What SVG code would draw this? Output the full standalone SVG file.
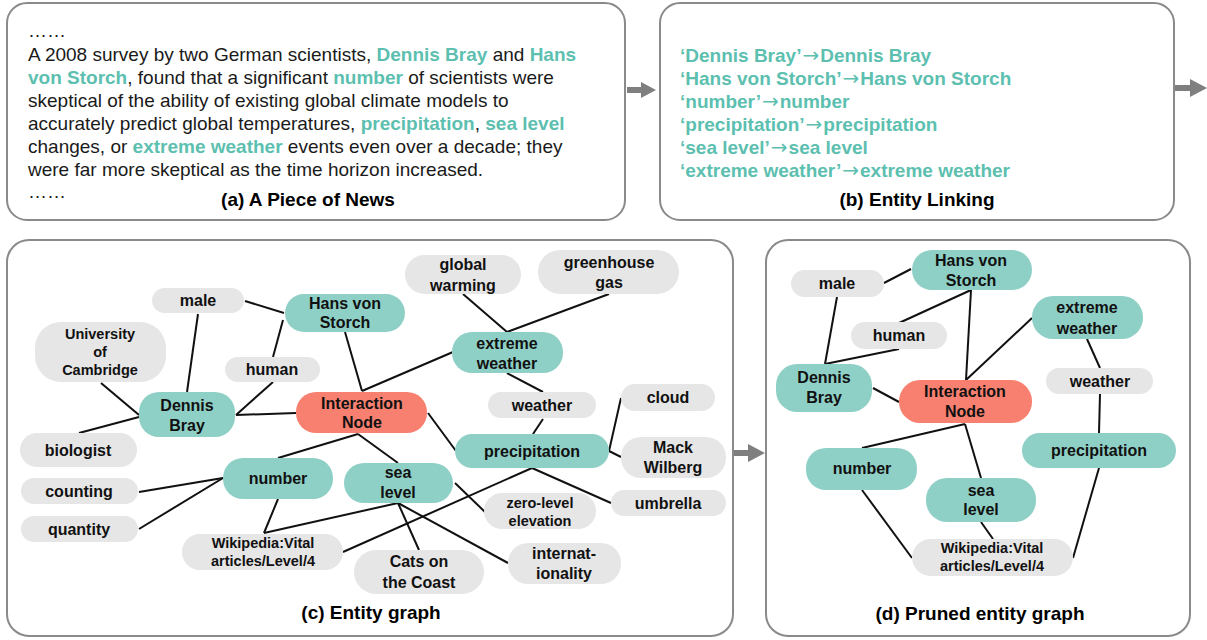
<svg xmlns="http://www.w3.org/2000/svg" width="1207" height="640" viewBox="0 0 1207 640">
<defs>
<style>
.panel{fill:#fff;stroke:#8a8a8a;stroke-width:2}
.body{font-family:"Liberation Sans",Arial,sans-serif;font-size:19px;fill:#1a1a1a}
.hl{font-weight:bold;fill:#5cbfb0}
.title{font-family:"Liberation Sans",Arial,sans-serif;font-size:19px;font-weight:bold;fill:#000;text-anchor:middle}
.link{font-family:"Liberation Sans",Arial,sans-serif;font-size:19px;font-weight:bold;fill:#5cbfb0}
.arr{font-family:"DejaVu Sans",sans-serif;font-weight:normal;font-size:20px}
.teal{fill:#8fd0c6}
.gray{fill:#e6e6e6}
.salmon{fill:#f88070}
.lbl{font-family:"Liberation Sans",Arial,sans-serif;font-size:16px;font-weight:bold;fill:#111;text-anchor:middle}
.sm{font-size:14.5px}
.edge{stroke:#111;stroke-width:2;fill:none}
.flow{fill:#7f7f7f}
</style>
</defs>

<!-- Panels -->
<g id="panel-a">
<rect class="panel" x="7" y="3" width="618" height="217" rx="20"/>
<text class="body" x="28" y="37">……</text>
<text class="body" x="28" y="61">A 2008 survey by two German scientists, <tspan class="hl">Dennis Bray</tspan> and <tspan class="hl">Hans</tspan></text>
<text class="body" x="28" y="84"><tspan class="hl">von Storch</tspan>, found that a significant <tspan class="hl">number</tspan> of scientists were</text>
<text class="body" x="28" y="107">skeptical of the ability of existing global climate models to</text>
<text class="body" x="28" y="130">accurately predict global temperatures, <tspan class="hl">precipitation</tspan>, <tspan class="hl">sea level</tspan></text>
<text class="body" x="28" y="153">changes, or <tspan class="hl">extreme weather</tspan> events even over a decade; they</text>
<text class="body" x="28" y="176">were far more skeptical as the time horizon increased.</text>
<text class="body" x="28" y="198">……</text>
<text class="title" x="308" y="206">(a) A Piece of News</text>
</g>

<g id="panel-b">
<rect class="panel" x="660" y="3" width="514" height="217" rx="20"/>
<text class="link" x="680" y="62">‘Dennis Bray’<tspan class="arr" dx="1">→</tspan><tspan dx="1">Dennis Bray</tspan></text>
<text class="link" x="680" y="85">‘Hans von Storch’<tspan class="arr" dx="1">→</tspan><tspan dx="1">Hans von Storch</tspan></text>
<text class="link" x="680" y="108">‘number’<tspan class="arr" dx="1">→</tspan><tspan dx="1">number</tspan></text>
<text class="link" x="680" y="131">‘precipitation’<tspan class="arr" dx="1">→</tspan><tspan dx="1">precipitation</tspan></text>
<text class="link" x="680" y="154">‘sea level’<tspan class="arr" dx="1">→</tspan><tspan dx="1">sea level</tspan></text>
<text class="link" x="680" y="177">‘extreme weather’<tspan class="arr" dx="1">→</tspan><tspan dx="1">extreme weather</tspan></text>
<text class="title" x="917" y="206">(b) Entity Linking</text>
</g>

<g id="panel-c">
<rect class="panel" x="7" y="240" width="726" height="396" rx="22"/>
<text class="title" x="371" y="619">(c) Entity graph</text>
</g>

<g id="panel-d">
<rect class="panel" x="766" y="240" width="424" height="396" rx="22"/>
<text class="title" x="980" y="620">(d) Pruned entity graph</text>
</g>

<g id="flow-arrows">
<polygon class="flow" points="627,87 641,87 641,82 656,90 641,98 641,93 627,93"/>
<polygon class="flow" points="1175,85 1190,85 1190,79 1207,88 1190,97 1190,91 1175,91"/>
<polygon class="flow" points="734,450 748,450 748,444 765,453 748,462 748,456 734,456"/>
</g>

<!-- Connectors -->
<g id="connectors">
<g id="edges-c">
<line class="edge" x1="245" y1="301" x2="284" y2="313"/>
<line class="edge" x1="198" y1="314" x2="187" y2="392"/>
<line class="edge" x1="283" y1="320" x2="273" y2="357"/>
<line class="edge" x1="273" y1="382" x2="236" y2="415"/>
<line class="edge" x1="101" y1="383" x2="139" y2="415"/>
<line class="edge" x1="139" y1="417" x2="79" y2="433"/>
<line class="edge" x1="236" y1="415" x2="296" y2="413"/>
<line class="edge" x1="345" y1="332" x2="362" y2="391"/>
<line class="edge" x1="362" y1="391" x2="453" y2="352"/>
<line class="edge" x1="358" y1="434" x2="278" y2="458"/>
<line class="edge" x1="358" y1="434" x2="398" y2="463"/>
<line class="edge" x1="223" y1="478" x2="139" y2="492"/>
<line class="edge" x1="223" y1="478" x2="139" y2="529"/>
<line class="edge" x1="278" y1="499" x2="264" y2="533"/>
<line class="edge" x1="264" y1="533" x2="398" y2="503"/>
<line class="edge" x1="343" y1="552" x2="532" y2="468"/>
<line class="edge" x1="398" y1="503" x2="419" y2="550"/>
<line class="edge" x1="398" y1="503" x2="508" y2="563"/>
<line class="edge" x1="455" y1="483" x2="485" y2="512"/>
<line class="edge" x1="532" y1="468" x2="611" y2="503"/>
<line class="edge" x1="428" y1="413" x2="456" y2="451"/>
<line class="edge" x1="507" y1="332" x2="463" y2="294"/>
<line class="edge" x1="507" y1="332" x2="609" y2="294"/>
<line class="edge" x1="507" y1="373" x2="543" y2="392"/>
<line class="edge" x1="543" y1="419" x2="533" y2="434"/>
<line class="edge" x1="609" y1="451" x2="621" y2="398"/>
<line class="edge" x1="609" y1="451" x2="621" y2="457"/>
</g>
<g id="edges-d">
<line class="edge" x1="884" y1="283" x2="911" y2="269"/>
<line class="edge" x1="837" y1="297" x2="825" y2="364"/>
<line class="edge" x1="971" y1="290" x2="899" y2="323"/>
<line class="edge" x1="899" y1="349" x2="825" y2="364"/>
<line class="edge" x1="971" y1="290" x2="966" y2="380"/>
<line class="edge" x1="1032" y1="318" x2="966" y2="380"/>
<line class="edge" x1="873" y1="388" x2="899" y2="402"/>
<line class="edge" x1="965" y1="424" x2="862" y2="448"/>
<line class="edge" x1="965" y1="424" x2="981" y2="478"/>
<line class="edge" x1="1087" y1="339" x2="1100" y2="368"/>
<line class="edge" x1="1100" y1="394" x2="1099" y2="433"/>
<line class="edge" x1="862" y1="490" x2="912" y2="558"/>
<line class="edge" x1="981" y1="522" x2="993" y2="539"/>
<line class="edge" x1="1099" y1="468" x2="1073" y2="558"/>
</g>
</g>

<!-- Nodes of (c) -->
<g id="c-male"><rect class="gray" x="152" y="288" width="92" height="25" rx="12.5"/><text class="lbl" x="198" y="306">male</text></g>
<g id="c-hans"><rect class="teal" x="285" y="294" width="120" height="38" rx="19"/><text class="lbl" x="345" y="309">Hans von</text><text class="lbl" x="345" y="328">Storch</text></g>
<g id="c-cambridge"><rect class="gray" x="35" y="322" width="131" height="60" rx="26"/><text class="lbl sm" x="100" y="339">University</text><text class="lbl sm" x="100" y="357">of</text><text class="lbl sm" x="100" y="375">Cambridge</text></g>
<g id="c-human"><rect class="gray" x="225" y="357" width="95" height="25" rx="12.5"/><text class="lbl" x="272" y="375">human</text></g>
<g id="c-dennis"><rect class="teal" x="139" y="392" width="96" height="45" rx="20"/><text class="lbl" x="187" y="411">Dennis</text><text class="lbl" x="187" y="431">Bray</text></g>
<g id="c-interaction"><rect class="salmon" x="296" y="392" width="131" height="41" rx="20"/><text class="lbl" x="362" y="409">Interaction</text><text class="lbl" x="362" y="428">Node</text></g>
<g id="c-biologist"><rect class="gray" x="20" y="433" width="117" height="34" rx="17"/><text class="lbl" x="78" y="456">biologist</text></g>
<g id="c-global-warming"><rect class="gray" x="405" y="255" width="116" height="39" rx="19.5"/><text class="lbl" x="463" y="270">global</text><text class="lbl" x="463" y="291">warming</text></g>
<g id="c-greenhouse"><rect class="gray" x="538" y="250" width="141" height="44" rx="22"/><text class="lbl" x="609" y="268">greenhouse</text><text class="lbl" x="609" y="288">gas</text></g>
<g id="c-extreme"><rect class="teal" x="452" y="332" width="111" height="41" rx="20"/><text class="lbl" x="507" y="349">extreme</text><text class="lbl" x="507" y="369">weather</text></g>
<g id="c-weather"><rect class="gray" x="488" y="392" width="108" height="26" rx="13"/><text class="lbl" x="542" y="411">weather</text></g>
<g id="c-cloud"><rect class="gray" x="621" y="384" width="94" height="27" rx="13.5"/><text class="lbl" x="668" y="403">cloud</text></g>
<g id="c-precipitation"><rect class="teal" x="455" y="434" width="154" height="34" rx="17"/><text class="lbl" x="532" y="457">precipitation</text></g>
<g id="c-mack"><rect class="gray" x="621" y="437" width="105" height="41" rx="20"/><text class="lbl" x="673" y="453">Mack</text><text class="lbl" x="673" y="473">Wilberg</text></g>
<g id="c-number"><rect class="teal" x="223" y="458" width="110" height="41" rx="20"/><text class="lbl" x="278" y="484">number</text></g>
<g id="c-sealevel"><rect class="teal" x="344" y="463" width="109" height="40" rx="20"/><text class="lbl" x="398" y="478">sea</text><text class="lbl" x="398" y="498">level</text></g>
<g id="c-counting"><rect class="gray" x="21" y="478" width="117" height="26" rx="13"/><text class="lbl" x="79" y="497">counting</text></g>
<g id="c-quantity"><rect class="gray" x="21" y="516" width="117" height="26" rx="13"/><text class="lbl" x="79" y="535">quantity</text></g>
<g id="c-zerolevel"><rect class="gray" x="484" y="493" width="112" height="36" rx="18"/><text class="lbl sm" x="540" y="508">zero-level</text><text class="lbl sm" x="540" y="526">elevation</text></g>
<g id="c-umbrella"><rect class="gray" x="611" y="490" width="115" height="26" rx="13"/><text class="lbl" x="668" y="509">umbrella</text></g>
<g id="c-wikipedia"><rect class="gray" x="182" y="534" width="161" height="36" rx="18"/><text class="lbl sm" x="263" y="548">Wikipedia:Vital</text><text class="lbl sm" x="263" y="566">articles/Level/4</text></g>
<g id="c-cats"><rect class="gray" x="354" y="550" width="130" height="44" rx="22"/><text class="lbl" x="419" y="567">Cats on</text><text class="lbl" x="419" y="588">the Coast</text></g>
<g id="c-internationality"><rect class="gray" x="508" y="543" width="113" height="41" rx="20"/><text class="lbl" x="564" y="559">internat-</text><text class="lbl" x="564" y="579">ionality</text></g>

<!-- Nodes of (d) -->
<g id="d-hans"><rect class="teal" x="912" y="250" width="120" height="40" rx="20"/><text class="lbl" x="971" y="266">Hans von</text><text class="lbl" x="971" y="286">Storch</text></g>
<g id="d-male"><rect class="gray" x="791" y="270" width="93" height="27" rx="13.5"/><text class="lbl" x="837" y="289">male</text></g>
<g id="d-extreme"><rect class="teal" x="1032" y="296" width="111" height="43" rx="21"/><text class="lbl" x="1087" y="313">extreme</text><text class="lbl" x="1087" y="334">weather</text></g>
<g id="d-human"><rect class="gray" x="851" y="322" width="96" height="27" rx="13.5"/><text class="lbl" x="899" y="341">human</text></g>
<g id="d-weather"><rect class="gray" x="1046" y="368" width="107" height="26" rx="13"/><text class="lbl" x="1100" y="387">weather</text></g>
<g id="d-dennis"><rect class="teal" x="776" y="364" width="96" height="48" rx="21"/><text class="lbl" x="824" y="383">Dennis</text><text class="lbl" x="824" y="403">Bray</text></g>
<g id="d-interaction"><rect class="salmon" x="899" y="380" width="133" height="43" rx="21"/><text class="lbl" x="965" y="397">Interaction</text><text class="lbl" x="965" y="417">Node</text></g>
<g id="d-precipitation"><rect class="teal" x="1022" y="433" width="154" height="35" rx="17.5"/><text class="lbl" x="1099" y="456">precipitation</text></g>
<g id="d-number"><rect class="teal" x="806" y="448" width="111" height="42" rx="20"/><text class="lbl" x="862" y="474">number</text></g>
<g id="d-sealevel"><rect class="teal" x="926" y="478" width="110" height="44" rx="21"/><text class="lbl" x="981" y="496">sea</text><text class="lbl" x="981" y="515">level</text></g>
<g id="d-wikipedia"><rect class="gray" x="912" y="539" width="161" height="37" rx="18.5"/><text class="lbl sm" x="992" y="553">Wikipedia:Vital</text><text class="lbl sm" x="992" y="571">articles/Level/4</text></g>
</svg>
